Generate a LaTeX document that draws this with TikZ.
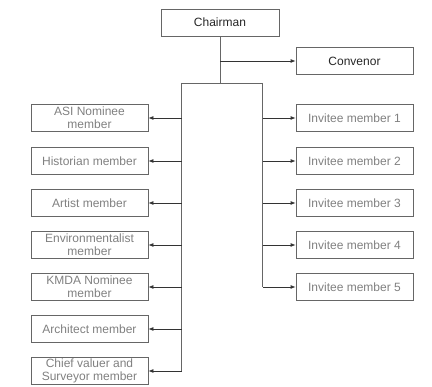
\documentclass[tikz,border=0pt]{standalone}
\usepackage{fontspec}
\setmainfont{Liberation Sans}
\usetikzlibrary{arrows.meta}

\begin{document}
\begin{tikzpicture}[x=1pt,y=-1pt,
    box/.style={draw=black!60, line width=0.8pt, minimum width=117pt, minimum height=27pt,
      align=center, inner sep=1pt, text=black!50, font=\fontsize{12}{13}\selectfont},
    head/.style={box, text=black!85},
    link/.style={draw=black!60, line width=0.8pt},
    tip/.style={draw=black!80, line width=0.8pt, -{Latex[length=5pt,width=4pt]}}]
        \useasboundingbox (0,0) rectangle (432,387);
        \node[head, minimum width=118pt] (chair) at (220,22.5) {Chairman};
        \node[head] (conv) at (354.5,61) {Convenor};
        \node[box] (asi) at (89.5,118) {ASI Nominee\\member};
        \node[box] (hist) at (89.5,161) {Historian member};
        \node[box] (art) at (89.5,203) {Artist member};
        \node[box] (env) at (89.5,245) {Environmentalist\\member};
        \node[box] (kmda) at (89.5,287) {KMDA Nominee\\member};
        \node[box] (arch) at (89.5,329) {Architect member};
        \node[box] (chief) at (89.5,371) {Chief valuer and\\Surveyor member};
        \foreach \i/\y in {1/118,2/161,3/203,4/245,5/287}
            \node[box] (inv\i) at (354.5,\y) {Invitee member \i};
        \coordinate (top) at (220,83);
        \coordinate (lft) at (181.5,83);
        \coordinate (rgt) at (262.5,83);
        \draw[link] (chair) -- (top);
        \draw[tip] (chair.south |- conv) -- (conv);
        \draw[link] (lft) -- (rgt);
        \draw[link] (lft) -- (lft |- chief);
        \draw[link] (rgt) -- (rgt |- inv5);
        \foreach \n in {asi,hist,art,env,kmda,arch,chief}
            \draw[tip] (lft |- \n) -- (\n.east);
        \foreach \i in {1,...,5}
            \draw[tip] (rgt |- inv\i) -- (inv\i.west);
    \end{tikzpicture}
\end{document}
